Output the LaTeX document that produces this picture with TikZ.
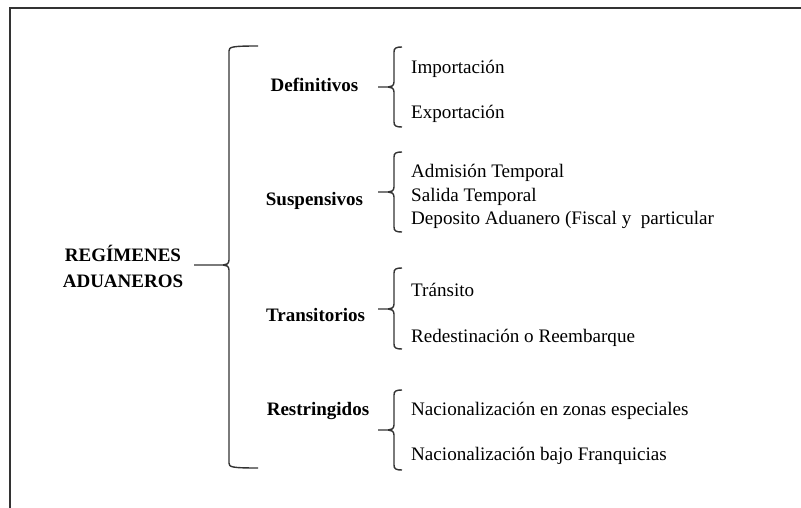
\documentclass[tikz,border=0pt]{standalone}
\usepackage{fontspec}
\setmainfont{Liberation Serif}
\tikzset{
  frameline/.style={draw=black!80, line width=1.4pt},
  bracket/.style={draw=black!80, line width=1.4pt},
  head/.style={font=\fontsize{19}{21}\selectfont\bfseries, anchor=base, inner sep=0pt},
  item/.style={font=\fontsize{19.1}{21}\selectfont, anchor=base west, inner sep=0pt},
}
% left curly brace: #1 x of the spine, #2 top, #3 middle, #4 bottom, #5 tip x, #6 hook x
\newcommand\wordbrace[6]{%
  \draw[bracket] (#6,#2) .. controls (#1+2,#2) and (#1,#2+1) .. (#1,#2+5)
    -- (#1,#3-5) .. controls (#1,#3-1) and (#1-3,#3) .. (#1-6,#3) -- (#5,#3)
    -- (#1-6,#3) .. controls (#1-3,#3) and (#1,#3+1) .. (#1,#3+5)
    -- (#1,#4-5) .. controls (#1,#4-1) and (#1+2,#4) .. (#6,#4);}
\begin{document}
\begin{tikzpicture}[x=1pt,y=-1pt]
\useasboundingbox (0,0) rectangle (801,508);
% page frame (top and left edges)
\draw[frameline] (801,8) -- (10,8) -- (10,508);

% root label
\node[head] (root1) at (123,261) {REGÍMENES};
\node[head] (root2) at (123,287) {ADUANEROS};

% main brace
\wordbrace{229}{46}{265}{468}{194}{258}

% categories
\node[head] (def) at (314.5,92) {Definitivos};
\node[head] (sus) at (314.5,206) {Suspensivos};
\node[head] (tra) at (315.5,321) {Transitorios};
\node[head] (res) at (318,415) {Restringidos};

% category braces
\wordbrace{394}{47}{87}{127}{378}{402}
\wordbrace{394}{152}{192}{232}{378}{402}
\wordbrace{394}{268}{309}{349}{378}{402}
\wordbrace{394}{390}{430}{470}{378}{402}

% items
\node[item] (imp) at (411,74) {Importación};
\node[item] (exp) at (411,119) {Exportación};
\node[item] (adm) at (411,178) {Admisión Temporal};
\node[item] (sal) at (411,201) {Salida Temporal};
\node[item] (dep) at (411,224) {Deposito Aduanero (Fiscal y\ \ particular};
\node[item] (trn) at (411,296) {Tránsito};
\node[item] (red) at (411,342) {Redestinación o Reembarque};
\node[item] (naz) at (411,415) {Nacionalización en zonas especiales};
\node[item] (naf) at (411,460) {Nacionalización bajo Franquicias};
\end{tikzpicture}
\end{document}
